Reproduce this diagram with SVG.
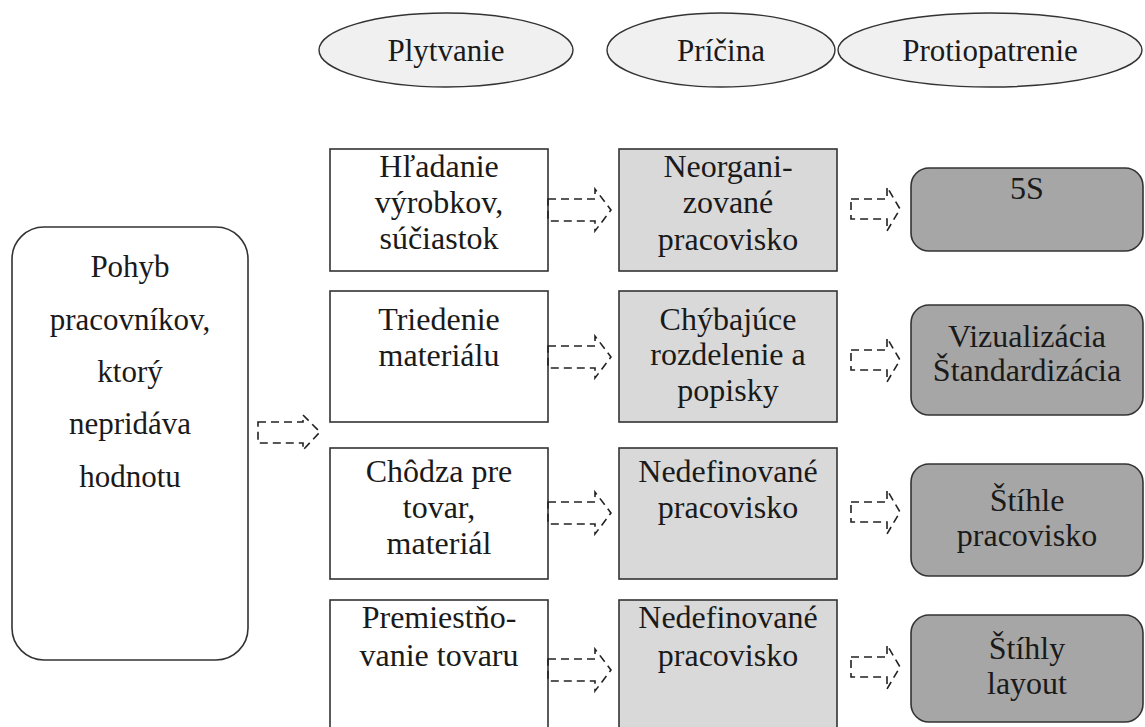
<svg xmlns="http://www.w3.org/2000/svg" width="1145" height="727" viewBox="0 0 1145 727">
<style>
text{font-family:Liberation Serif,Times New Roman,Tinos,Noto Serif,FreeSerif,DejaVu Serif,serif;fill:#1a1a1a;text-anchor:middle}
.t{font-size:32px}
.h{font-size:31px}
.l{font-size:31px}
.bw{fill:#fff;stroke:#333;stroke-width:1.6}
.bg{fill:#d9d9d9;stroke:#333;stroke-width:1.6}
.bd{fill:#a6a6a6;stroke:#333;stroke-width:1.6}
.el{fill:#f0f0f0;stroke:#333;stroke-width:1.4}
.ar{fill:none;stroke:#222;stroke-width:1.6;stroke-dasharray:8 5}
</style>
<defs>
<path id="arA" class="ar" d="M0,-11 H47 V-21 L63,0 L47,21 V11 H0 Z"/>
<path id="arB" class="ar" d="M0,-10 H36 V-22 L49,0 L36,22 V10 H0 Z"/>
<path id="arC" class="ar" d="M0,-10 H45 V-17 L62,0 L45,18 V11 H0 Z"/>
</defs>
<rect width="1145" height="727" fill="#fff"/>
<g id="hdr-plytvanie"><ellipse class="el" cx="446" cy="50" rx="127" ry="37"/><text class="h" x="446" y="61">Plytvanie</text></g>
<g id="hdr-pricina"><ellipse class="el" cx="721" cy="50" rx="114" ry="37"/><text class="h" x="721" y="61">Príčina</text></g>
<g id="hdr-protiopatrenie"><ellipse class="el" cx="990" cy="50" rx="152" ry="37"/><text class="h" x="990" y="61">Protiopatrenie</text></g>
<g id="main"><rect class="bw" x="12" y="227" width="236" height="433" rx="32"/>
<text class="l" x="130" y="277">Pohyb</text><text class="l" x="130" y="330">pracovníkov,</text><text class="l" x="130" y="382">ktorý</text><text class="l" x="130" y="434">nepridáva</text><text class="l" x="130" y="487">hodnotu</text></g>
<g id="w1"><rect class="bw" x="330" y="149" width="218" height="122"/><text class="t" x="439" y="177">Hľadanie</text><text class="t" x="439" y="213">výrobkov,</text><text class="t" x="439" y="249">súčiastok</text></g>
<g id="w2"><rect class="bw" x="330" y="291" width="218" height="131"/><text class="t" x="439" y="330">Triedenie</text><text class="t" x="439" y="366">materiálu</text></g>
<g id="w3"><rect class="bw" x="330" y="448" width="218" height="131"/><text class="t" x="439" y="482">Chôdza pre</text><text class="t" x="439" y="518">tovar,</text><text class="t" x="439" y="554">materiál</text></g>
<g id="w4"><rect class="bw" x="330" y="600" width="218" height="140"/><text class="t" x="439" y="628">Premiestňo-</text><text class="t" x="439" y="666">vanie tovaru</text></g>
<g id="g1"><rect class="bg" x="619" y="149" width="218" height="122"/><text class="t" x="728" y="177">Neorgani-</text><text class="t" x="728" y="213">zované</text><text class="t" x="728" y="250">pracovisko</text></g>
<g id="g2"><rect class="bg" x="619" y="291" width="218" height="131"/><text class="t" x="728" y="330">Chýbajúce</text><text class="t" x="728" y="365">rozdelenie a</text><text class="t" x="728" y="401">popisky</text></g>
<g id="g3"><rect class="bg" x="619" y="448" width="218" height="131"/><text class="t" x="728" y="482">Nedefinované</text><text class="t" x="728" y="518">pracovisko</text></g>
<g id="g4"><rect class="bg" x="619" y="600" width="218" height="140"/><text class="t" x="728" y="628">Nedefinované</text><text class="t" x="728" y="666">pracovisko</text></g>
<g id="d1"><rect class="bd" x="911" y="168" width="232" height="83" rx="18"/><text class="t" x="1027" y="199">5S</text></g>
<g id="d2"><rect class="bd" x="911" y="305" width="232" height="110" rx="18"/><text class="t" x="1027" y="347">Vizualizácia</text><text class="t" x="1027" y="381">Štandardizácia</text></g>
<g id="d3"><rect class="bd" x="911" y="464" width="232" height="112" rx="18"/><text class="t" x="1027" y="511">Štíhle</text><text class="t" x="1027" y="546">pracovisko</text></g>
<g id="d4"><rect class="bd" x="911" y="615" width="232" height="107" rx="18"/><text class="t" x="1027" y="659">Štíhly</text><text class="t" x="1027" y="694">layout</text></g>
<g id="connectors">
<use href="#arC" x="258" y="432"/>
<use href="#arA" x="548" y="210"/>
<use href="#arA" x="548" y="357"/>
<use href="#arA" x="548" y="513"/>
<use href="#arA" x="548" y="670"/>
<use href="#arB" x="851" y="209"/>
<use href="#arB" x="851" y="360"/>
<use href="#arB" x="851" y="512"/>
<use href="#arB" x="851" y="667"/>
</g>
</svg>
